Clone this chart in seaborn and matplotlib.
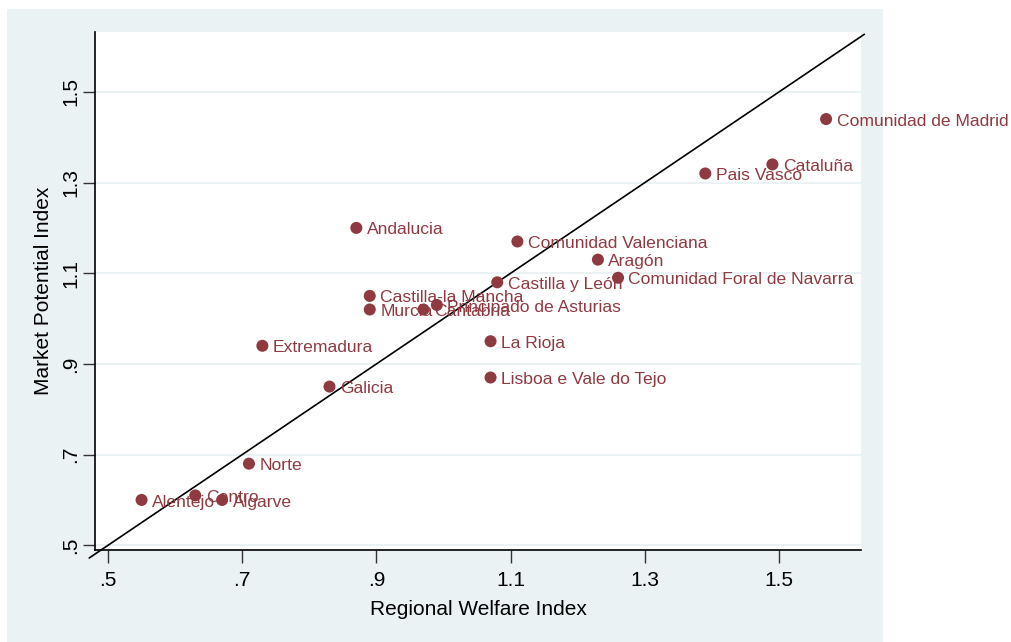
import matplotlib
matplotlib.use('Agg')
import matplotlib.pyplot as plt
import seaborn as sns
import pandas as pd
from matplotlib.patches import Rectangle

# Data
regions = ["Comunidad de Madrid", "Cataluña", "Pais Vasco", "Andalucia",
           "Comunidad Valenciana", "Aragón", "Comunidad Foral de Navarra",
           "Castilla y León", "Castilla-la Mancha", "Principado de Asturias",
           "Murcia", "Cantabria", "La Rioja", "Extremadura",
           "Lisboa e Vale do Tejo", "Galicia", "Norte", "Centro",
           "Alentejo", "Algarve"]
welfare = [1.57, 1.49, 1.39, 0.87, 1.11, 1.23, 1.26, 1.08, 0.89,
           0.99, 0.89, 0.97, 1.07, 0.73, 1.07, 0.83, 0.71, 0.63,
           0.55, 0.67]
potential = [1.44, 1.34, 1.32, 1.20, 1.17, 1.13, 1.09, 1.08, 1.05,
             1.03, 1.02, 1.02, 0.95, 0.94, 0.87, 0.85, 0.68, 0.61,
             0.60, 0.60]
tick_vals = [0.5, 0.7, 0.9, 1.1, 1.3, 1.5]
tick_labels = [".5", ".7", ".9", "1.1", "1.3", "1.5"]

df = pd.DataFrame({"region": regions, "welfare": welfare, "potential": potential})

sns.set_style("white")
plt.rcParams['font.family'] = ['Liberation Sans', 'DejaVu Sans']

MAROON = "#8F3A40"
PANEL = "#EAF2F3"

fig = plt.figure(figsize=(10.11, 6.42), dpi=100)
fig.patch.set_facecolor("white")
# light Stata-like graph region behind the plot
fig.patches.append(Rectangle((7 / 1011, 0), 876 / 1011, 633 / 642,
                             transform=fig.transFigure, facecolor=PANEL,
                             edgecolor="none", zorder=-10))

ax = fig.add_axes([95 / 1011, 92 / 642, 766 / 1011, 518 / 642])
ax.set_facecolor("white")

# 45 degree reference line
ax.plot([0.472, 1.627], [0.472, 1.627], color="black", lw=1.2, zorder=2,
        clip_on=False)
sns.scatterplot(data=df, x="welfare", y="potential", ax=ax, color=MAROON,
                s=75, edgecolor="none", zorder=3)

for name, x, y in zip(regions, welfare, potential):
    ax.annotate(name, (x, y), xytext=(7.5, -1.5), textcoords="offset points",
                va="center", ha="left", color=MAROON, fontsize=12.6,
                annotation_clip=False, zorder=4)

ax.set_xlim(0.4806, 1.622)
ax.set_ylim(0.4896, 1.632)
ax.set_xticks(tick_vals)
ax.set_xticklabels(tick_labels)
ax.set_yticks(tick_vals)
ax.set_yticklabels(tick_labels, rotation=90, va="center")
ax.tick_params(axis="both", length=9, width=1, color="#333333",
               labelsize=15, labelcolor="black", direction="out",
               bottom=True, left=True)
ax.tick_params(axis="x", pad=6)
ax.tick_params(axis="y", pad=1.5)

ax.yaxis.grid(True, color=PANEL, lw=1.5)
ax.xaxis.grid(False)
ax.set_axisbelow(True)

for side in ["top", "right"]:
    ax.spines[side].set_visible(False)
for side in ["left", "bottom"]:
    ax.spines[side].set_color("black")
    ax.spines[side].set_linewidth(1.2)

ax.set_xlabel("Regional Welfare Index", fontsize=15, labelpad=7, color="black")
ax.set_ylabel("Market Potential Index", fontsize=15, labelpad=6, color="black")

fig.savefig("out.png", dpi=100)
